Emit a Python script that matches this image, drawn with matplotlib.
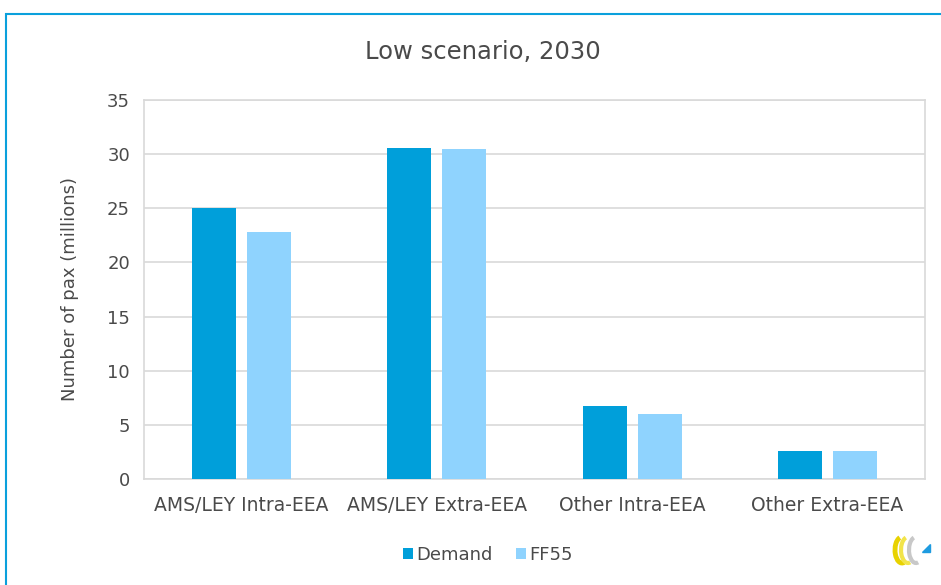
import matplotlib.pyplot as plt
import matplotlib.patches as patches
import numpy as np

categories = ['AMS/LEY Intra-EEA', 'AMS/LEY Extra-EEA', 'Other Intra-EEA', 'Other Extra-EEA']
demand = [25.0, 30.6, 6.7, 2.6]
ff55 = [22.8, 30.5, 6.0, 2.6]
series_names = ['Demand', 'FF55']

text_color = '#4A4A4A'
c_demand = '#009FDA'
c_ff55 = '#8FD3FE'

W, H = 941, 585


def px(x, y):
    # pixel position (from top-left) -> figure fraction
    return x / W, 1 - y / H


def main():
    plt.rcParams['font.family'] = ['DejaVu Sans']
    fig = plt.figure(figsize=(W / 100, H / 100), dpi=100)
    # plot area in pixels: x 144..925, y 100..479
    ax = fig.add_axes([144 / W, 1 - 479 / H, (925 - 144) / W, (479 - 100) / H])

    x = np.arange(len(categories))
    w = 0.225
    off = 0.141
    ax.bar(x - off, demand, w, color=c_demand, label=series_names[0], zorder=3)
    ax.bar(x + off, ff55, w, color=c_ff55, label=series_names[1], zorder=3)

    ax.set_xlim(-0.5, len(categories) - 0.5)
    ax.set_ylim(0, 35)
    ax.set_yticks(np.arange(0, 36, 5))
    ax.set_xticks(x)
    ax.set_xticklabels(categories)
    ax.grid(axis='y', color='#D9D9D9', linewidth=1.2, zorder=0)
    for s in ax.spines.values():
        s.set_color('#D9D9D9')
        s.set_linewidth(1.2)
    ax.tick_params(length=0, colors=text_color)
    ax.tick_params(axis='y', pad=10, labelsize=13)
    ax.tick_params(axis='x', pad=12, labelsize=13.5)
    ax.set_ylabel('Number of pax (millions)', color=text_color, fontsize=13, labelpad=20)

    fig.text(*px(483, 52), 'Low scenario, 2030', ha='center', va='center',
             color=text_color, fontsize=17.5)

    leg = fig.legend(loc='center', bbox_to_anchor=px(488, 555), ncol=2,
                     frameon=False, fontsize=13, handlelength=0.55, handleheight=0.55,
                     handletextpad=0.2, columnspacing=1.3)
    for t in leg.get_texts():
        t.set_color(text_color)

    # outer frame border (runs off the right/bottom edges)
    rect = patches.Rectangle((6 / W, -0.05), 1.1, 1 - 14 / H + 0.05,
                             transform=fig.transFigure, fill=False,
                             edgecolor='#0AA0DC', linewidth=1.5, clip_on=False)
    fig.patches.append(rect)

    # small logo, bottom right
    lax = fig.add_axes([888 / W, 1 - 570 / H, 50 / W, 40 / H])
    lax.set_xlim(0, 50)
    lax.set_ylim(0, 40)
    lax.axis('off')
    for cx, col, lw in [(14, '#E8D200', 3.5), (20, '#F2E44A', 3.0), (28, '#C8C8C8', 3.0)]:
        lax.add_patch(patches.Arc((cx, 20), 14, 26, theta1=100, theta2=280,
                                  color=col, linewidth=lw))
    lax.add_patch(patches.Polygon([[34, 18], [42, 18], [42, 26]], closed=True,
                                  color='#1E9BE0'))

    fig.savefig('out.png', dpi=100)


if "__main__" == __name__:
    main()
